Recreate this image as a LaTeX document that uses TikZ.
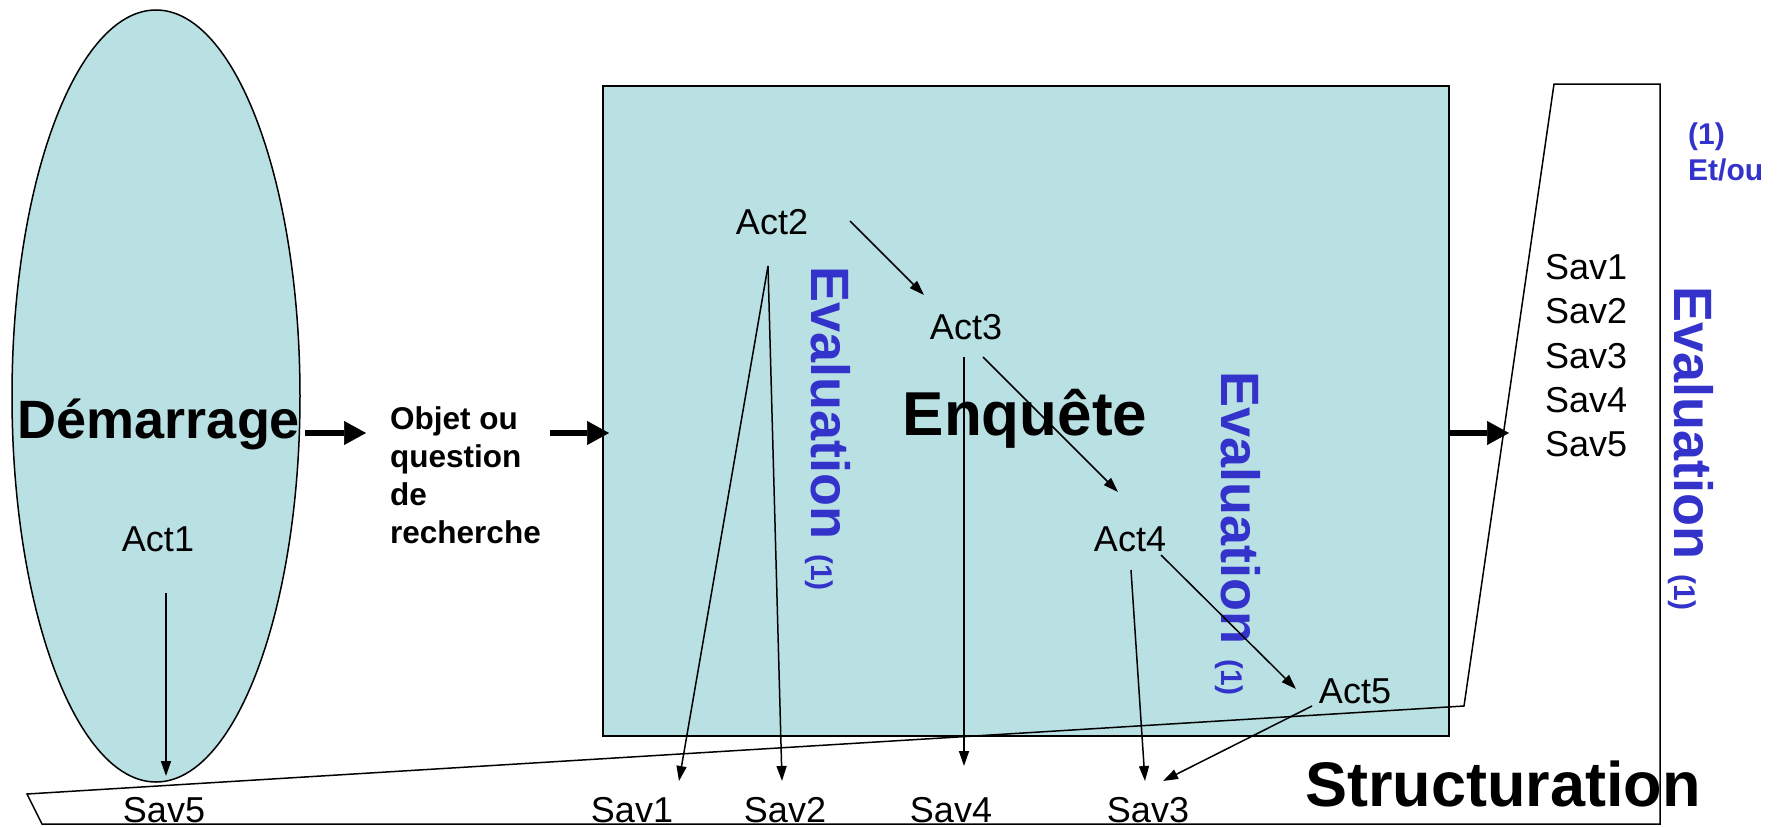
\documentclass[tikz,border=0pt]{standalone}
\usepackage{fontspec}
\setmainfont{Liberation Sans}
\usetikzlibrary{arrows.meta,shapes.geometric}
\definecolor{fillc}{RGB}{185,224,227}
\definecolor{evalblue}{RGB}{51,51,204}
\begin{document}
\begin{tikzpicture}[x=1pt,y=-1pt,
  txt/.style={inner sep=0pt, anchor=base, font=\fontsize{36}{40}\selectfont},
  evaltxt/.style={inner sep=0pt, text=evalblue, rotate=-90, anchor=base west, font=\fontsize{54}{54}\selectfont\bfseries},
  smallarrow/.style={line width=1.5pt, -{Triangle[length=15pt,width=10pt]}},
  bigarrow/.style={line width=6pt, -{Triangle[length=22pt,width=24pt,line width=0.5pt]}},
  fillshape/.style={draw=black, line width=1.5pt, fill=fillc, inner sep=0pt},
  outline/.style={draw=black, line width=1.5pt}]
\useasboundingbox (0,0) rectangle (1781,827);

% shapes
\node[fillshape, ellipse, minimum width=288pt, minimum height=772pt] (dem) at (156,396) {};
\node[fillshape, minimum width=846pt, minimum height=650pt, anchor=north west] (enq) at (602,85) {};
\draw[outline] (27,794) -- (1464,706) -- (1554,84) -- (1660,84) -- (1660,824) -- (42,824) -- cycle;

% big titles
\node[txt, font=\fontsize{54}{54}\selectfont\bfseries] (demtxt) at (159,438) {Démarrage};
\node[txt, font=\fontsize{62}{62}\selectfont\bfseries] (enqtxt) at (1025,435) {Enquête};
\node[txt, font=\fontsize{63}{63}\selectfont\bfseries] (structxt) at (1503,806) {Structuration};
\node[inner sep=0pt, anchor=base west, align=left, font=\fontsize{31.5}{38}\selectfont\bfseries] (obj) at (390,543) {Objet ou\\question\\de\\recherche};

% activities
\node[txt] (act1) at (158,551) {Act1};
\node[txt] (act2) at (772,234) {Act2};
\node[txt] (act3) at (966,339) {Act3};
\node[txt] (act4) at (1130,551) {Act4};
\node[txt] (act5) at (1355,703) {Act5};

% bottom savoirs
\node[txt] (bsav5) at (164,822) {Sav5};
\node[txt] (bsav1) at (632,822) {Sav1};
\node[txt] (bsav2) at (785,822) {Sav2};
\node[txt] (bsav4) at (951,822) {Sav4};
\node[txt] (bsav3) at (1148,822) {Sav3};

% right savoirs list
\node[txt, anchor=base west] (rsav1) at (1545,279) {Sav1};
\node[txt, anchor=base west] (rsav2) at (1545,323) {Sav2};
\node[txt, anchor=base west] (rsav3) at (1545,368) {Sav3};
\node[txt, anchor=base west] (rsav4) at (1545,412) {Sav4};
\node[txt, anchor=base west] (rsav5) at (1545,456) {Sav5};

% evaluations
\node[evaltxt] (ev1) at (811,266) {Evaluation {\fontsize{30}{30}\selectfont(1)}};
\node[evaltxt] (ev2) at (1221,371) {Evaluation {\fontsize{30}{30}\selectfont(1)}};
\node[evaltxt] (ev3) at (1674,286) {Evaluation {\fontsize{30}{30}\selectfont(1)}};
\node[inner sep=0pt, anchor=base west, align=left, text=evalblue, font=\fontsize{30}{36}\selectfont\bfseries] (etou) at (1688,180) {(1)\\Et/ou};

% connector end points
\coordinate (a1o) at (166,593);   \coordinate (s5i) at (166,776);
\coordinate (d1o) at (305,433);   \coordinate (o1i) at (366,433);
\coordinate (o1o) at (550,433);   \coordinate (e1i) at (609,433);
\coordinate (e1o) at (1449,433);  \coordinate (r1i) at (1509,433);
\coordinate (a2o) at (850,221);   \coordinate (a3i) at (924,295);
\coordinate (a2d) at (768,266);
\coordinate (s1i) at (679,781);   \coordinate (s2i) at (782,781);
\coordinate (a3d) at (964,357);   \coordinate (s4i) at (964,766);
\coordinate (a3o) at (983,357);   \coordinate (a4i) at (1118,492);
\coordinate (a4o) at (1161,555);  \coordinate (a5i) at (1296,689);
\coordinate (a4d) at (1131,570);  \coordinate (s3i) at (1145,781);
\coordinate (a5o) at (1312,706);  \coordinate (s3j) at (1163,781);

% connectors
\draw[bigarrow] (d1o) -- (o1i);
\draw[bigarrow] (o1o) -- (e1i);
\draw[bigarrow] (e1o) -- (r1i);
\draw[smallarrow] (a1o) -- (s5i);
\draw[smallarrow] (a2o) -- (a3i);
\draw[smallarrow] (a2d) -- (s1i);
\draw[smallarrow] (a2d) -- (s2i);
\draw[smallarrow] (a3d) -- (s4i);
\draw[smallarrow] (a3o) -- (a4i);
\draw[smallarrow] (a4o) -- (a5i);
\draw[smallarrow] (a4d) -- (s3i);
\draw[smallarrow] (a5o) -- (s3j);
\end{tikzpicture}
\end{document}
